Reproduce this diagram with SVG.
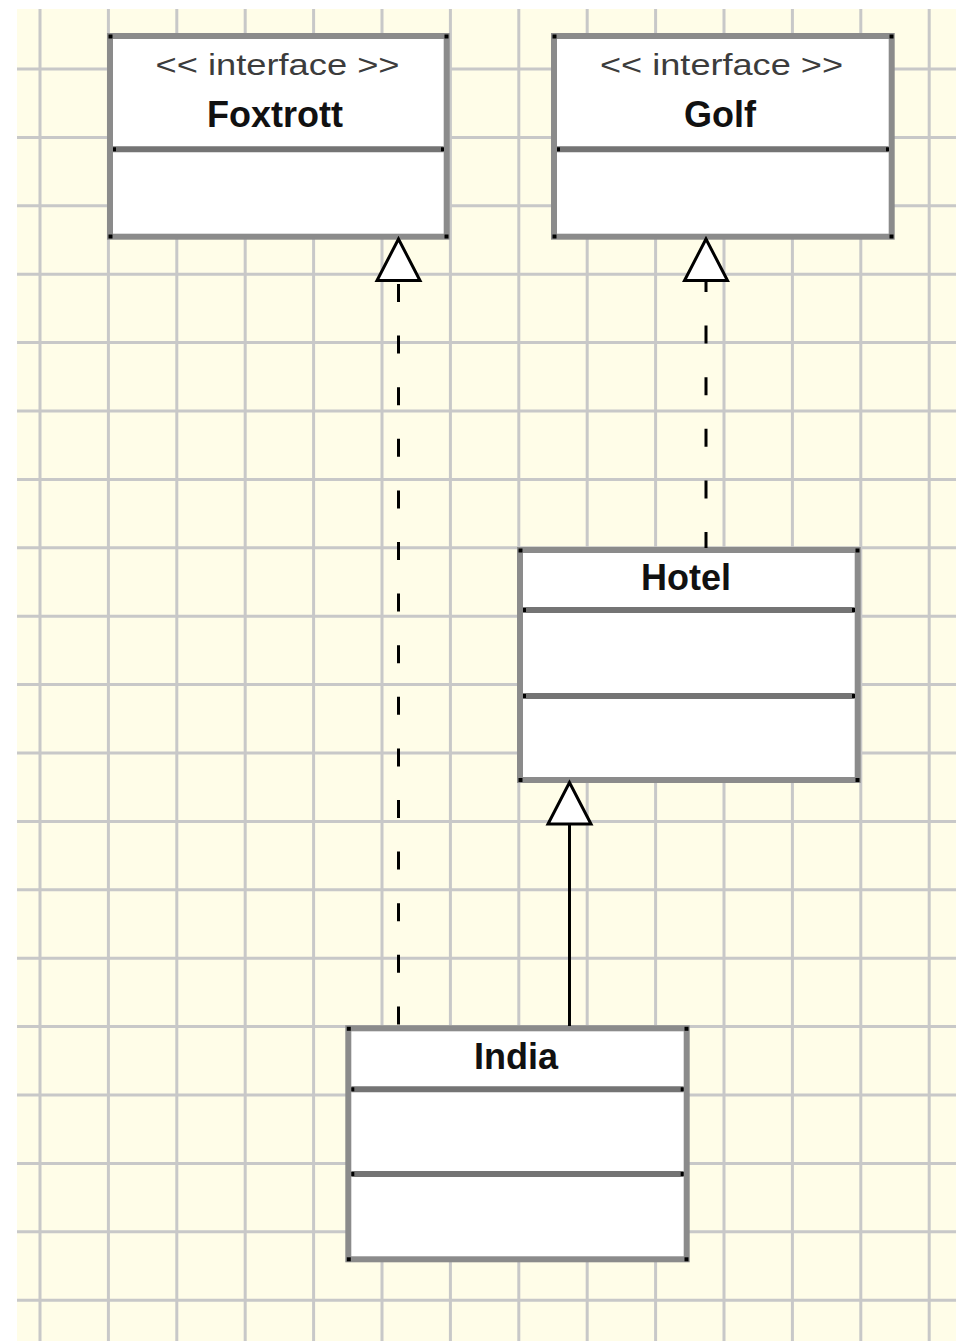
<svg xmlns="http://www.w3.org/2000/svg" width="956" height="1341" viewBox="0 0 956 1341">
  <style>
    .grid { stroke: #c8c8c8; stroke-width: 3; fill: none; }
    .box { fill: #ffffff; stroke: #8b8b8b; stroke-width: 6; }
    .sep { stroke: #747474; stroke-width: 6; }
    .dot { fill: #000000; }
    .stereo { font-family: "Liberation Sans", Arial, sans-serif; font-size: 30px; fill: #3c3c3c; text-anchor: middle; }
    .name { font-family: "Liberation Sans", Arial, sans-serif; font-size: 36px; font-weight: bold; fill: #111111; text-anchor: middle; }
    .edge { stroke: #000000; stroke-width: 3; fill: none; }
    .dashed { stroke-dasharray: 18 33.6; }
  </style>
  <defs>
    <marker id="tri" markerUnits="userSpaceOnUse" viewBox="-45 -25 48 50" refX="0" refY="0" markerWidth="48" markerHeight="50" orient="auto" overflow="visible">
      <path d="M0,0 L-41.5,-21.5 L-41.5,21.5 Z" fill="#ffffff" stroke="#000000" stroke-width="3" stroke-dasharray="none" stroke-linejoin="miter"/>
    </marker>
  </defs>

  <!-- background -->
  <rect x="0" y="0" width="956" height="1341" fill="#ffffff"/>
  <rect x="17" y="9" width="939" height="1332" fill="#fffde8"/>
  <g id="grid" class="grid">
    <path d="M40,9 V1341 M108.4,9 V1341 M176.8,9 V1341 M245.2,9 V1341 M313.6,9 V1341 M382,9 V1341 M450.4,9 V1341 M518.8,9 V1341 M587.2,9 V1341 M655.6,9 V1341 M724,9 V1341 M792.4,9 V1341 M860.8,9 V1341 M929.2,9 V1341"/>
    <path d="M17,69 H956 M17,137.4 H956 M17,205.8 H956 M17,274.2 H956 M17,342.6 H956 M17,411 H956 M17,479.4 H956 M17,547.8 H956 M17,616.2 H956 M17,684.6 H956 M17,753 H956 M17,821.4 H956 M17,889.8 H956 M17,958.2 H956 M17,1026.6 H956 M17,1095 H956 M17,1163.4 H956 M17,1231.8 H956 M17,1300.2 H956"/>
  </g>

  <g id="Foxtrott">
    <rect class="box" x="110" y="36" width="336.7" height="200.7"/>
    <line class="sep" x1="113" y1="149.3" x2="443.7" y2="149.3"/>
    <rect class="dot" x="108.5" y="34.5" width="4" height="4"/>
    <rect class="dot" x="444.5" y="34.5" width="4" height="4"/>
    <rect class="dot" x="108.5" y="234.5" width="4" height="4"/>
    <rect class="dot" x="444.5" y="234.5" width="4" height="4"/>
    <rect class="dot" x="113" y="147.3" width="3" height="4"/>
    <rect class="dot" x="441" y="147.3" width="3" height="4"/>
    <text class="stereo" x="277.5" y="75" textLength="244" lengthAdjust="spacingAndGlyphs">&lt;&lt; interface &gt;&gt;</text>
    <text class="name" x="275" y="127">Foxtrott</text>
  </g>

  <g id="Golf">
    <rect class="box" x="554" y="36" width="337.7" height="200.7"/>
    <line class="sep" x1="557" y1="149.3" x2="888.7" y2="149.3"/>
    <rect class="dot" x="552.5" y="34.5" width="4" height="4"/>
    <rect class="dot" x="889.5" y="34.5" width="4" height="4"/>
    <rect class="dot" x="552.5" y="234.5" width="4" height="4"/>
    <rect class="dot" x="889.5" y="234.5" width="4" height="4"/>
    <rect class="dot" x="557" y="147.3" width="3" height="4"/>
    <rect class="dot" x="886" y="147.3" width="3" height="4"/>
    <text class="stereo" x="721.5" y="75" textLength="243" lengthAdjust="spacingAndGlyphs">&lt;&lt; interface &gt;&gt;</text>
    <text class="name" x="720" y="127">Golf</text>
  </g>

  <g id="Hotel">
    <rect class="box" x="520" y="550" width="337.7" height="230"/>
    <line class="sep" x1="523" y1="610" x2="854.7" y2="610"/>
    <line class="sep" x1="523" y1="696" x2="854.7" y2="696"/>
    <rect class="dot" x="518.5" y="548.5" width="4" height="4"/>
    <rect class="dot" x="855.5" y="548.5" width="4" height="4"/>
    <rect class="dot" x="518.5" y="778" width="4" height="4"/>
    <rect class="dot" x="855.5" y="778" width="4" height="4"/>
    <rect class="dot" x="523" y="608" width="3" height="4"/>
    <rect class="dot" x="852" y="608" width="3" height="4"/>
    <rect class="dot" x="523" y="694" width="3" height="4"/>
    <rect class="dot" x="852" y="694" width="3" height="4"/>
    <text class="name" x="686" y="590">Hotel</text>
  </g>

  <g id="India">
    <rect class="box" x="348.3" y="1028.3" width="338.4" height="231"/>
    <line class="sep" x1="351.3" y1="1089.3" x2="683.7" y2="1089.3"/>
    <line class="sep" x1="351.3" y1="1174" x2="683.7" y2="1174"/>
    <rect class="dot" x="346.8" y="1026.8" width="4" height="4"/>
    <rect class="dot" x="684.5" y="1026.8" width="4" height="4"/>
    <rect class="dot" x="346.8" y="1257.3" width="4" height="4"/>
    <rect class="dot" x="684.5" y="1257.3" width="4" height="4"/>
    <rect class="dot" x="351.3" y="1087.3" width="3" height="4"/>
    <rect class="dot" x="680.7" y="1087.3" width="3" height="4"/>
    <rect class="dot" x="351.3" y="1172" width="3" height="4"/>
    <rect class="dot" x="680.7" y="1172" width="3" height="4"/>
    <text class="name" x="516" y="1069">India</text>
  </g>

  <g id="connectors">
    <path id="india-foxtrott" class="edge dashed" stroke-dashoffset="50" d="M398.5,1026 V239" marker-end="url(#tri)"/>
    <path id="hotel-golf" class="edge dashed" stroke-dashoffset="2" d="M706,548 V239" marker-end="url(#tri)"/>
    <path id="india-hotel" class="edge" d="M569.5,1026 V782.5" marker-end="url(#tri)"/>
  </g>
</svg>
